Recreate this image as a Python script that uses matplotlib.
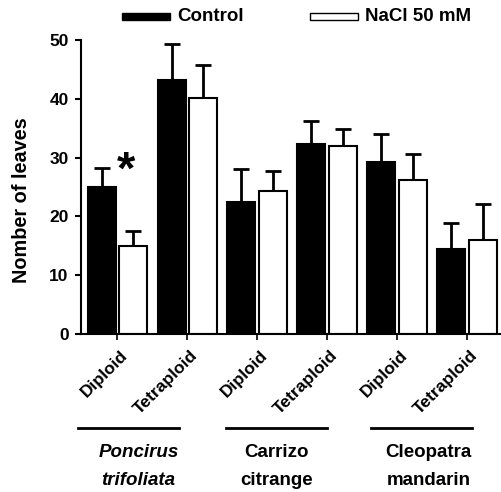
import numpy as np
import matplotlib
matplotlib.use('Agg')
import matplotlib.pyplot as plt
from matplotlib.patches import Rectangle
plt.rcParams['font.family'] = ['Liberation Sans', 'DejaVu Sans']
plt.rcParams['font.weight'] = 'bold'

ploidy = ['Diploid', 'Tetraploid', 'Diploid', 'Tetraploid', 'Diploid', 'Tetraploid']
species = ['Poncirus\ntrifoliata', 'Carrizo\ncitrange', 'Cleopatra\nmandarin']
control = [25.0, 43.2, 22.4, 32.4, 29.2, 14.5]
control_err = [3.2, 6.2, 5.7, 3.8, 4.9, 4.3]
nacl = [15.0, 40.1, 24.3, 32.0, 26.2, 16.0]
nacl_err = [2.6, 5.6, 3.4, 2.8, 4.4, 6.1]

fig = plt.figure(figsize=(5.01, 4.92), dpi=100)
ax = fig.add_axes([0.1617, 0.321, 0.836, 0.5977])

x = np.arange(len(ploidy))
w = 0.40
off = 0.225
ax.bar(x - off, control, w, color='black', edgecolor='black', linewidth=1.5, zorder=2)
ax.bar(x + off, nacl, w, color='white', edgecolor='black', linewidth=1.5, zorder=2)
ax.errorbar(x - off, control, yerr=[np.zeros(6), control_err], fmt='none',
            ecolor='black', elinewidth=2, capsize=5.5, capthick=2, zorder=1)
ax.errorbar(x + off, nacl, yerr=[np.zeros(6), nacl_err], fmt='none',
            ecolor='black', elinewidth=2, capsize=5.5, capthick=2, zorder=1)

ax.set_xlim(-0.52, 5.47)
ax.set_ylim(0, 50)
ax.set_yticks([0, 10, 20, 30, 40, 50])
ax.set_xticks(x)
ax.set_xticklabels([])
# rotated ploidy labels, drawn by hand so they can sit right of the tick
for xi, name in zip(x, ploidy):
    ax.annotate(name, xy=(xi, 0), xycoords=('data', 'axes fraction'),
                xytext=(2.0, -10.0), textcoords='offset points',
                rotation=45, rotation_mode='anchor', ha='right', va='top',
                fontsize=12.5, fontweight='bold', annotation_clip=False)
ax.tick_params(axis='y', labelsize=12.5, direction='out', length=4, width=1.5, pad=5)
ax.tick_params(axis='x', direction='out', length=4, width=1.2)
for lab in ax.get_yticklabels():
    lab.set_fontweight('bold')
ax.spines['top'].set_visible(False)
ax.spines['right'].set_visible(False)
ax.spines['left'].set_linewidth(1.5)
ax.spines['bottom'].set_linewidth(1.5)
ax.set_ylabel('Nomber of leaves', fontsize=14.3, fontweight='bold')
ax.yaxis.set_label_coords(-0.119, 0.456)

# significance
ax.text(0.13, 27.6, '*', fontsize=34, fontweight='bold', ha='center', va='center')

# species groups
trans = matplotlib.transforms.blended_transform_factory(ax.transData, ax.transAxes)
spans = [(-0.57, 0.876), (1.56, 3.0), (3.63, 5.07)]
centers = [0.30, 2.27, 4.45]
for (a, b), c, name in zip(spans, centers, species):
    ax.plot([a, b], [-0.319, -0.319], color='black', lw=2, transform=trans, clip_on=False)
    style = 'italic' if name.startswith('Poncirus') else 'normal'
    ax.text(c, -0.375, name, transform=trans, ha='center', va='top', fontsize=13.5,
            fontweight='bold', fontstyle=style, linespacing=1.8)

# legend
fig.patches.append(Rectangle((122/501, 1 - 20/492), 48/501, 7/492, transform=fig.transFigure,
                             facecolor='black', edgecolor='black', lw=1))
fig.patches.append(Rectangle((310/501, 1 - 20/492), 48/501, 7/492, transform=fig.transFigure,
                             facecolor='white', edgecolor='black', lw=1))
fig.text(177/501, 1 - 16.5/492, 'Control', fontsize=13.5, fontweight='bold', va='center')
fig.text(365/501, 1 - 16.5/492, 'NaCl 50 mM', fontsize=13.5, fontweight='bold', va='center')

fig.savefig('out.png', dpi=100)
